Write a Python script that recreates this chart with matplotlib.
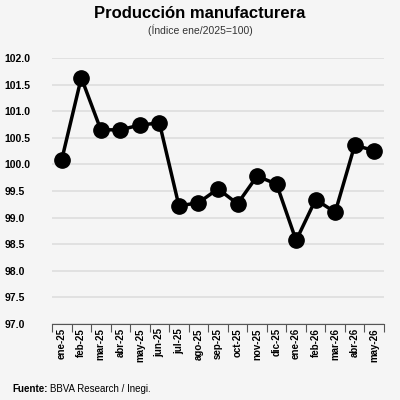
import matplotlib.pyplot as plt

months = ['ene-25', 'feb-25', 'mar-25', 'abr-25', 'may-25', 'jun-25', 'jul-25', 'ago-25', 'sep-25',
          'oct-25', 'nov-25', 'dic-25', 'ene-26', 'feb-26', 'mar-26', 'abr-26', 'may-26']
values = [100.09, 101.63, 100.65, 100.65, 100.74, 100.78, 99.22, 99.28, 99.54,
          99.26, 99.78, 99.63, 98.57, 99.34, 99.10, 100.36, 100.26]
yticks = [97.0 + 0.5 * i for i in range(11)]

bg = '#f5f5f5'
plt.rcParams['font.family'] = ['Liberation Sans', 'DejaVu Sans']
fig = plt.figure(figsize=(4, 4), dpi=100, facecolor=bg)
ax = fig.add_axes([0.13, 0.19, 0.83, 0.665], facecolor=bg)

x = list(range(len(months)))
ax.plot(x, values, color='black', lw=2.5, marker='o', ms=11, zorder=3)
ax.set_ylim(97.0, 102.0)
ax.set_xlim(-0.5, len(months) - 0.5)
ax.set_yticks(yticks)
ax.set_yticklabels([f'{v:.1f}' for v in yticks], fontsize=7.5, fontweight='bold')
ax.yaxis.grid(True, color='#dddddd', lw=1.2)
ax.set_axisbelow(True)
ax.tick_params(axis='y', length=0, pad=34)
for lab in ax.get_yticklabels():
    lab.set_horizontalalignment('left')
ax.set_xticks([i - 0.5 for i in x] + [len(months) - 0.5], minor=False)
ax.set_xticklabels([''] * (len(months) + 1))
ax.tick_params(axis='x', length=6, color='#555555', direction='out')
ax.set_xticks(x, minor=True)
ax.set_xticklabels(months, minor=True, rotation=90, fontsize=7, fontweight='bold')
ax.tick_params(axis='x', which='minor', length=0, pad=3)
for s in ['top', 'right', 'left']:
    ax.spines[s].set_visible(False)
ax.spines['bottom'].set_color('#555555')

fig.text(0.5, 0.955, 'Producción manufacturera', ha='center', fontsize=12, fontweight='bold')
fig.text(0.5, 0.915, '(Índice ene/2025=100)', ha='center', fontsize=7.5, color='#333333')
fig.text(0.03, 0.02, 'Fuente:', fontsize=7, fontweight='bold')
fig.text(0.125, 0.02, 'BBVA Research / Inegi.', fontsize=7)

fig.savefig('out.png', facecolor=bg)
